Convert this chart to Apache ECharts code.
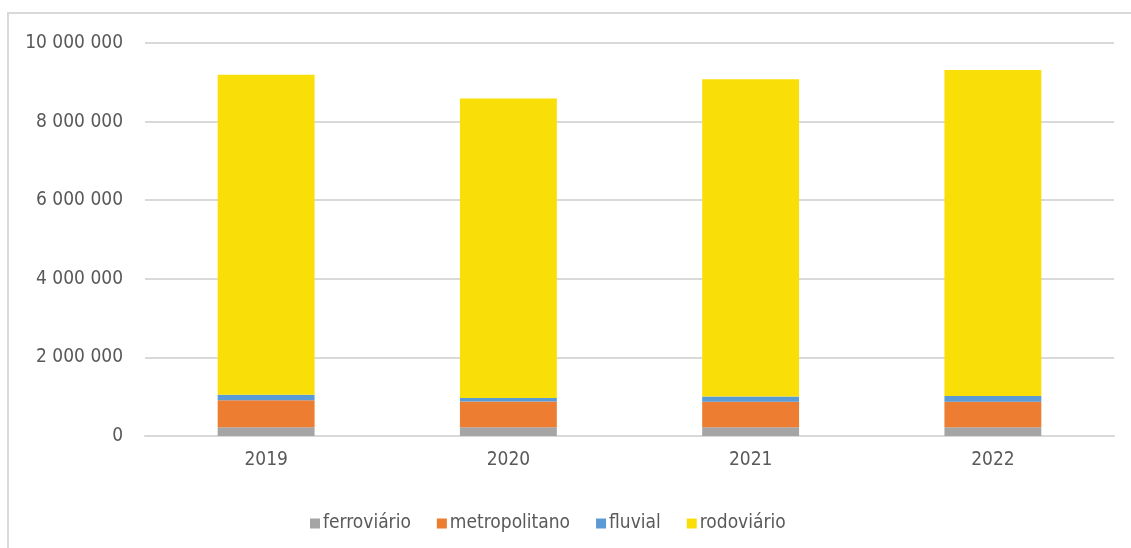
<!DOCTYPE html>
<html>
<head>
<meta charset="utf-8">
<script src="https://cdn.jsdelivr.net/npm/echarts@6/dist/echarts.min.js"></script>
<style>
html,body{margin:0;padding:0;background:#fff;}
#mainChart{width:1131px;height:548px;}
</style>
</head>
<body>
<div id="mainChart"></div>
<script>
var anos = ['2019', '2020', '2021', '2022'];
var ferroviario = [220000, 220000, 220000, 220000];
var metropolitano = [690000, 660000, 650000, 650000];
var fluvial = [140000, 90000, 135000, 145000];
var rodoviario = [8140000, 7620000, 8075000, 8295000];

var fonte = '"Liberation Sans Narrow", "Arial Narrow", "DejaVu Sans Condensed", sans-serif';

function milhares(v) {
	return String(v).replace(/\B(?=(\d{3})+(?!\d))/g, ' ');
}

function serie(nome, dados, cor) {
	return {
		name: nome,
		type: 'bar',
		stack: 'total',
		barWidth: '40%',
		data: dados,
		itemStyle: { color: cor },
		emphasis: { disabled: true }
	};
}

var myChart = echarts.init(document.getElementById('mainChart'));
var option = {
	animation: false,
	textStyle: { fontFamily: fonte },
	grid: { left: 145, right: 17, top: 43, bottom: 112, containLabel: false },
	legend: {
		left: 305,
		top: 509,
		itemWidth: 10,
		itemHeight: 10,
		itemGap: 26,
		icon: 'rect',
		textStyle: { color: '#595959', fontSize: 19, fontFamily: fonte, padding: [0, 0, 0, -2] },
		data: ['ferroviário', 'metropolitano', 'fluvial', 'rodoviário']
	},
	xAxis: {
		type: 'category',
		data: anos,
		axisLine: { lineStyle: { color: '#d9d9d9', width: 2 } },
		axisTick: { show: false },
		axisLabel: { color: '#595959', fontSize: 19, margin: 15, fontFamily: fonte }
	},
	yAxis: {
		type: 'value',
		min: 0,
		max: 10000000,
		interval: 2000000,
		axisLine: { show: false },
		axisTick: { show: false },
		splitLine: { lineStyle: { color: '#d9d9d9', width: 2 } },
		axisLabel: {
			color: '#595959',
			fontSize: 19,
			margin: 22,
			fontFamily: fonte,
			formatter: milhares
		}
	},
	graphic: [
		{ type: 'line', shape: { x1: 7, y1: 13, x2: 1131, y2: 13 }, style: { stroke: '#d9d9d9', lineWidth: 2 } },
		{ type: 'line', shape: { x1: 8, y1: 13, x2: 8, y2: 548 }, style: { stroke: '#d9d9d9', lineWidth: 2 } }
	],
	series: [
		serie('ferroviário', ferroviario, '#a5a5a5'),
		serie('metropolitano', metropolitano, '#ed7d31'),
		serie('fluvial', fluvial, '#5b9bd5'),
		serie('rodoviário', rodoviario, '#fade08')
	]
};
myChart.setOption(option);
</script>
</body>
</html>
